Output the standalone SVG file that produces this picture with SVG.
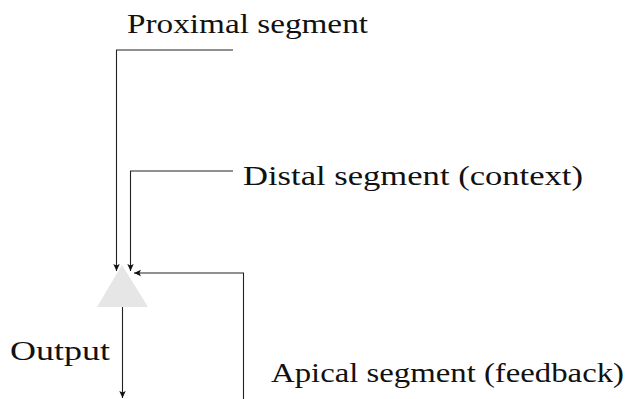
<svg xmlns="http://www.w3.org/2000/svg" width="627" height="399" viewBox="0 0 627 399">
  <style>
    .wire { fill: none; stroke: #222; stroke-width: 1.1; }
    .label { font-family: "Liberation Serif", serif; font-size: 27px; fill: #111; }
  </style>
  <defs>
    <marker id="tip" markerWidth="8" markerHeight="8" refX="7" refY="4" orient="auto" markerUnits="userSpaceOnUse">
      <path d="M0,0.8 L7,4 L0,7.2 L1.6,4 Z" fill="#111"/>
    </marker>
  </defs>

  <!-- neuron body -->
  <g id="neuron">
    <polygon points="122,265 97,307 148,307" fill="#e6e6e6"/>
  </g>

  <!-- connectors -->
  <g id="connectors">
    <path class="wire" d="M233,50 H116.5 V271" marker-end="url(#tip)"/>
    <path class="wire" d="M233,171 H130.5 V271" marker-end="url(#tip)"/>
    <path class="wire" d="M243.5,399 V273 H134" marker-end="url(#tip)"/>
    <path class="wire" d="M122.5,307 V398" marker-end="url(#tip)"/>
  </g>

  <g id="proximal">
    <text class="label" x="127" y="33" textLength="241" lengthAdjust="spacingAndGlyphs">Proximal segment</text>
  </g>
  <g id="distal">
    <text class="label" x="243" y="185" textLength="340" lengthAdjust="spacingAndGlyphs">Distal segment (context)</text>
  </g>
  <g id="apical">
    <text class="label" x="271" y="382" textLength="353" lengthAdjust="spacingAndGlyphs">Apical segment (feedback)</text>
  </g>
  <g id="output">
    <text class="label" x="10" y="360" textLength="100" lengthAdjust="spacingAndGlyphs">Output</text>
  </g>
</svg>
